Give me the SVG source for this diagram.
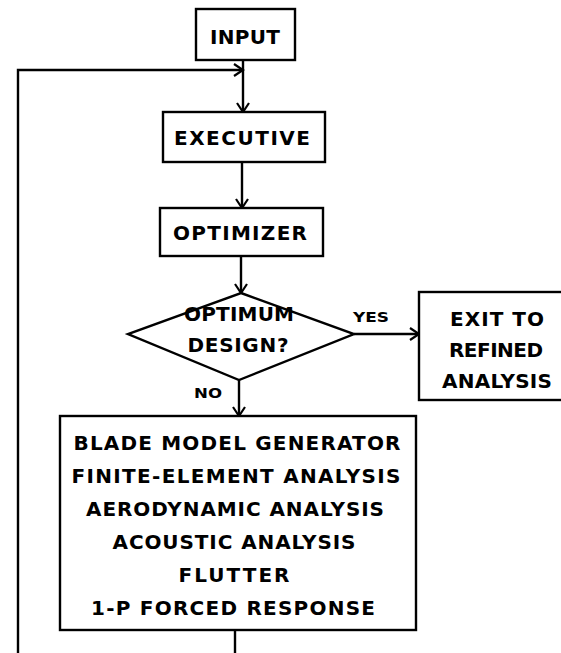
<svg xmlns="http://www.w3.org/2000/svg" width="561" height="653" viewBox="0 0 561 653">
<style>
.box{fill:#fff;stroke:#000;stroke-width:2.4}
.ln{fill:none;stroke:#000;stroke-width:2.4}
text{font-family:"DejaVu Sans","Liberation Sans",Arial,sans-serif;font-weight:bold;fill:#000;text-anchor:middle}
.t{font-size:20px}
.s{font-size:14px}
</style>
<defs>
<marker id="ah" markerUnits="userSpaceOnUse" markerWidth="14" markerHeight="14" refX="10" refY="6" orient="auto" overflow="visible">
<path d="M1,0 L10,6 L1,12" fill="none" stroke="#000" stroke-width="2.2"/>
</marker>
</defs>
<rect width="561" height="653" fill="#fff"/>
<g id="connectors">
<polyline class="ln" points="18,653 18,70 243,70" marker-end="url(#ah)"/>
<line class="ln" x1="243" y1="60" x2="243" y2="112" marker-end="url(#ah)"/>
<line class="ln" x1="242" y1="162" x2="242" y2="208" marker-end="url(#ah)"/>
<line class="ln" x1="241" y1="256" x2="241" y2="293" marker-end="url(#ah)"/>
<line class="ln" x1="354" y1="334" x2="419" y2="334" marker-end="url(#ah)"/>
<line class="ln" x1="239" y1="380" x2="239" y2="416" marker-end="url(#ah)"/>
<line class="ln" x1="235" y1="630" x2="235" y2="653"/>
<text class="s" x="371" y="322" textLength="36" lengthAdjust="spacingAndGlyphs">YES</text>
<text class="s" x="208" y="398" textLength="28" lengthAdjust="spacingAndGlyphs">NO</text>
</g>
<g id="input">
<rect class="box" x="196" y="9" width="99" height="51"/>
<text class="t" x="245" y="44" textLength="70" lengthAdjust="spacing">INPUT</text>
</g>
<g id="executive">
<rect class="box" x="163" y="112" width="162" height="50"/>
<text class="t" x="242" y="145" textLength="136" lengthAdjust="spacing">EXECUTIVE</text>
</g>
<g id="optimizer">
<rect class="box" x="160" y="208" width="163" height="48"/>
<text class="t" x="240" y="240" textLength="134" lengthAdjust="spacing">OPTIMIZER</text>
</g>
<g id="decision">
<polygon class="box" points="241,293 354,334 239,380 128,334"/>
<text class="t" x="239" y="321" textLength="110" lengthAdjust="spacing">OPTIMUM</text>
<text class="t" x="238" y="352" textLength="101" lengthAdjust="spacing">DESIGN?</text>
</g>
<g id="exit">
<rect class="box" x="419" y="292" width="150" height="108"/>
<text class="t" x="497" y="326" textLength="94" lengthAdjust="spacing">EXIT TO</text>
<text class="t" x="496" y="357" textLength="94" lengthAdjust="spacing">REFINED</text>
<text class="t" x="497" y="388" textLength="110" lengthAdjust="spacing">ANALYSIS</text>
</g>
<g id="analysis">
<rect class="box" x="60" y="416" width="356" height="214"/>
<text class="t" x="237" y="450" textLength="327" lengthAdjust="spacing">BLADE MODEL GENERATOR</text>
<text class="t" x="236" y="483" textLength="329" lengthAdjust="spacing">FINITE-ELEMENT ANALYSIS</text>
<text class="t" x="235" y="516" textLength="298" lengthAdjust="spacing">AERODYNAMIC ANALYSIS</text>
<text class="t" x="234" y="549" textLength="243" lengthAdjust="spacing">ACOUSTIC ANALYSIS</text>
<text class="t" x="234" y="582" textLength="111" lengthAdjust="spacing">FLUTTER</text>
<text class="t" x="233" y="615" textLength="284" lengthAdjust="spacing">1-P FORCED RESPONSE</text>
</g>
</svg>
